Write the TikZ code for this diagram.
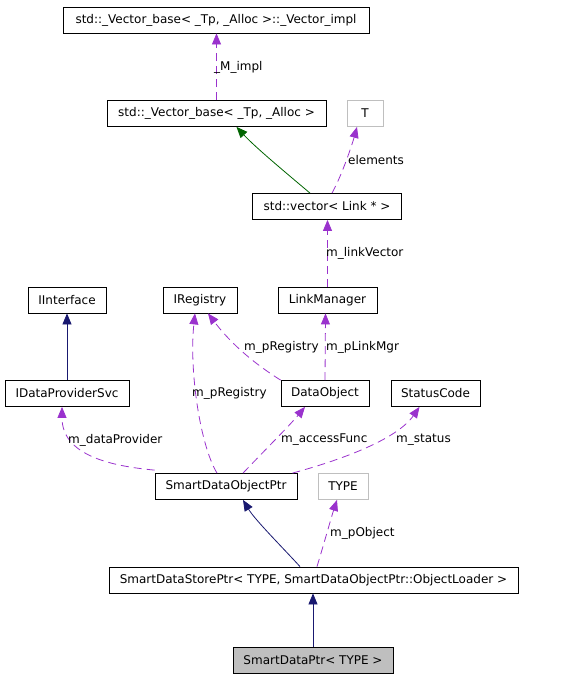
\documentclass[tikz,border=0pt]{standalone}
\usepackage{fontspec}
\setmainfont{DejaVu Sans}
\usetikzlibrary{arrows.meta,calc}
\definecolor{purp}{HTML}{9A32CD}
\definecolor{navy}{HTML}{191970}
\definecolor{dgreen}{HTML}{006400}
\definecolor{lgray}{HTML}{BFBFBF}
\begin{document}
\begin{tikzpicture}[x=1pt,y=-1pt,
  box/.style={draw=black,line width=0.8pt,inner sep=0pt,minimum height=26pt,font=\fontsize{12}{14}\selectfont,fill=white},
  gbox/.style={box,draw=lgray},
  lbl/.style={anchor=west,inner sep=0pt,font=\fontsize{12}{14}\selectfont},
  use/.style={draw=purp,line width=0.8pt,dash pattern=on 8pt off 5pt,-{Triangle[length=11pt,width=9pt,fill=purp]}},
  inh/.style={draw=navy,line width=0.8pt,-{Triangle[length=11pt,width=9pt,fill=navy]}},
  ginh/.style={draw=dgreen,line width=0.8pt,-{Triangle[length=11pt,width=9pt,fill=dgreen]}}]
\useasboundingbox (0,0) rectangle (565,680);
% nodes
\node[box,minimum width=306pt] (vimpl) at (216,20) {std::\_Vector\_base< \_Tp, \_Alloc >::\_Vector\_impl};
\node[box,minimum width=219pt] (vbase) at (216.5,113.5) {std::\_Vector\_base< \_Tp, \_Alloc >};
\node[gbox,minimum width=36pt] (T) at (365,113.5) {T};
\node[box,minimum width=149pt] (vec) at (327,206.5) {std::vector< Link * >};
\node[box,minimum width=78pt] (iint) at (67,300) {IInterface};
\node[box,minimum width=74pt] (ireg) at (200,300) {IRegistry};
\node[box,minimum width=99pt] (lm) at (327.5,300) {LinkManager};
\node[box,minimum width=124pt] (idp) at (67,393.5) {IDataProviderSvc};
\node[box,minimum width=88pt] (dobj) at (325,393.5) {DataObject};
\node[box,minimum width=89pt] (sc) at (435.5,393.5) {StatusCode};
\node[box,minimum width=142pt] (sdop) at (226,486.5) {SmartDataObjectPtr};
\node[gbox,minimum width=50pt] (TYPE) at (343,486.5) {TYPE};
\node[box,minimum width=409pt] (sdsp) at (313.5,580) {SmartDataStorePtr< TYPE, SmartDataObjectPtr::ObjectLoader >};
\node[box,minimum width=160pt,fill=lgray] (sdp) at (313,660) {SmartDataPtr< TYPE >};
% edges
\draw[use] (vbase.north) -- (vbase.north |- vimpl.south);
\draw[ginh] ([xshift=-17pt]vec.north) .. controls (285,172) and (255,147) .. ([xshift=20pt]vbase.south);
\draw[use] ([xshift=5pt]vec.north) .. controls (342,175) and (352,145) .. ([xshift=-8pt]T.south);
\draw[use] (lm.north) -- (lm.north |- vec.south);
\draw[inh] (idp.north) -- (iint.south);
\draw[use] (dobj.north west) .. controls (255,364) and (232,345) .. ([xshift=8pt]ireg.south);
\draw[use] (dobj.north) -- ([xshift=-2pt]lm.south);
\draw[use] ([xshift=-9pt]sdop.north) .. controls (200,445) and (189,370) .. ([xshift=-5pt]ireg.south);
\draw[use] ([yshift=3pt]sdop.north west) .. controls (110,466) and (62,455) .. ([xshift=-5pt]idp.south);
\draw[use] ([xshift=17pt]sdop.north) .. controls (265,450) and (290,425) .. ([xshift=-20pt]dobj.south);
\draw[use] ([xshift=-5pt]sdop.north east) .. controls (330,463) and (395,442) .. ([xshift=-16pt]sc.south);
\draw[inh] ([xshift=-13.5pt]sdsp.north) .. controls (285,550) and (255,520) .. ([xshift=17pt]sdop.south);
\draw[use] ([xshift=3.5pt]sdsp.north) .. controls (325,540) and (332,515) .. ([xshift=-6pt]TYPE.south);
\draw[inh] (sdp.north) -- (sdp.north |- sdsp.south);
% labels
\node[lbl] (l1) at (214,67) {\_M\_impl};
\node[lbl] (l2) at (348,160) {elements};
\node[lbl] (l3) at (326,253) {m\_linkVector};
\node[lbl] (l4) at (244,347) {m\_pRegistry};
\node[lbl] (l5) at (326,347) {m\_pLinkMgr};
\node[lbl] (l6) at (192,393) {m\_pRegistry};
\node[lbl] (l7) at (68,440) {m\_dataProvider};
\node[lbl] (l8) at (281,440) {m\_accessFunc};
\node[lbl] (l9) at (396,440) {m\_status};
\node[lbl] (l10) at (330,533) {m\_pObject};
\end{tikzpicture}
\end{document}
